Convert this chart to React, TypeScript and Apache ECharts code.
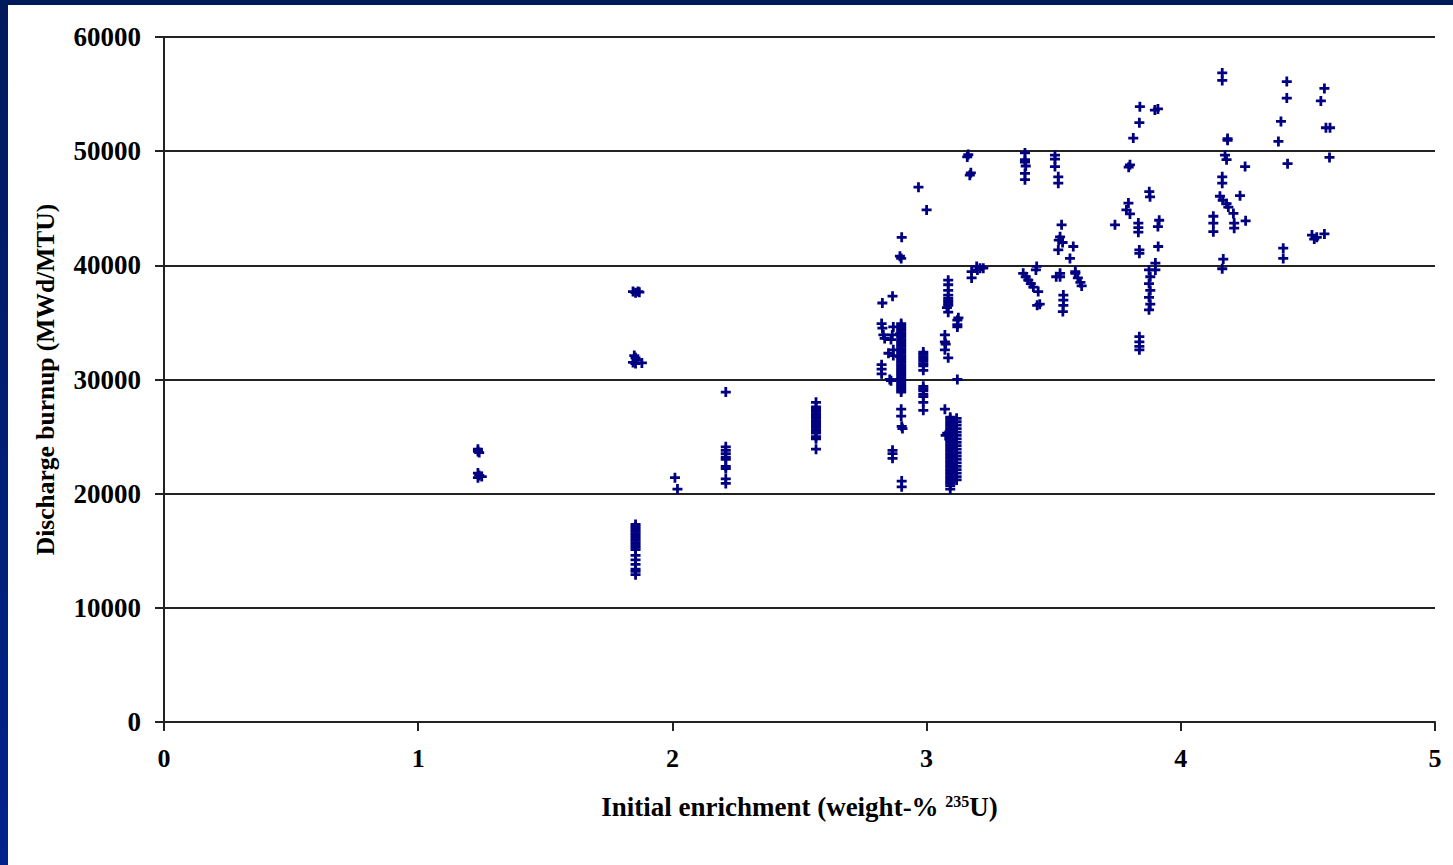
import React, { useEffect, useRef } from "react";
import * as echarts from "echarts";

// [initial enrichment (wt-% 235U), discharge burnup (MWd/MTU)]
const enrich124: number[][] = [
  [1.235, 23900], [1.235, 23700], [1.24, 23600], [1.235, 21800], [1.24, 21600], [1.25, 21500], [1.235, 21400],
];
const enrich185: number[][] = [
  [1.845, 37700], [1.855, 37600], [1.865, 37700], [1.87, 37650],
  [1.85, 32100], [1.855, 31900], [1.86, 31700], [1.845, 31500], [1.855, 31400], [1.88, 31450],
  [1.855, 17300], [1.855, 17100], [1.855, 16900], [1.855, 16700], [1.855, 16500], [1.855, 16300], [1.855, 16100],
  [1.855, 15900], [1.855, 15700], [1.855, 15500], [1.855, 15300], [1.855, 15100],
  [1.855, 14600], [1.855, 14200], [1.855, 13800], [1.855, 13400], [1.855, 13200], [1.855, 12900],
];
const enrich201: number[][] = [[2.01, 21400], [2.02, 20400]];
const enrich221: number[][] = [
  [2.21, 28900], [2.21, 24100], [2.21, 23800], [2.21, 23500], [2.21, 23200], [2.21, 23000], [2.21, 22400],
  [2.21, 22200], [2.21, 21300], [2.21, 20900],
];
const enrich257: number[][] = [
  [2.565, 28000], [2.565, 27600], [2.565, 27400], [2.565, 27200], [2.565, 27000], [2.565, 26800], [2.565, 26600],
  [2.565, 26400], [2.565, 26200], [2.565, 26000], [2.565, 25800], [2.565, 25600], [2.565, 25400], [2.565, 25300],
  [2.565, 25000], [2.565, 24800], [2.565, 23900],
];
const enrich290: number[][] = [
  [2.968, 46850], [3.0, 44850], [2.902, 42450], [2.895, 40800], [2.9, 40600], [2.866, 37300], [2.826, 36700],
  [2.823, 34900], [2.826, 34500], [2.83, 33900], [2.835, 33600], [2.869, 34600], [2.865, 33900], [2.86, 33500],
  [2.869, 32600], [2.869, 32100], [2.85, 32300],
  [2.9, 34900], [2.9, 34700], [2.9, 34500], [2.9, 34300], [2.9, 34100], [2.9, 33900], [2.9, 33700], [2.9, 33500],
  [2.9, 33300], [2.9, 33100], [2.9, 32900], [2.9, 32700], [2.9, 32500], [2.9, 32300], [2.9, 32100], [2.9, 31900],
  [2.9, 31700], [2.9, 31500], [2.9, 31300], [2.9, 31100], [2.9, 30900], [2.9, 30700], [2.9, 30500], [2.9, 30300],
  [2.9, 30100], [2.9, 29900], [2.9, 29700], [2.9, 29500], [2.9, 29300], [2.9, 29100], [2.9, 28900],
  [2.895, 34000], [2.895, 32000], [2.895, 30000],
  [2.823, 31300], [2.823, 30900], [2.823, 30500], [2.855, 30000], [2.86, 29900], [2.9, 27400], [2.9, 26800],
  [2.902, 25900], [2.905, 25700], [2.866, 23800], [2.866, 23500], [2.866, 23100], [2.902, 21100], [2.902, 20600],
];
const enrich299: number[][] = [
  [2.987, 32400], [2.987, 32200], [2.987, 32000], [2.987, 31800], [2.987, 31600], [2.987, 31400], [2.987, 31200],
  [2.987, 30800], [2.987, 29400], [2.987, 29200], [2.987, 29000], [2.987, 28700], [2.987, 28500], [2.987, 28000],
  [2.987, 27300],
];
const enrich310: number[][] = [
  [3.085, 38700], [3.085, 38300], [3.085, 37800], [3.085, 37400], [3.085, 37100], [3.085, 36900], [3.085, 36700],
  [3.085, 36500], [3.08, 36300], [3.085, 35900], [3.121, 35200], [3.121, 34800], [3.121, 34600], [3.125, 35400],
  [3.072, 33900], [3.072, 33300], [3.075, 33100], [3.072, 32600], [3.085, 31900], [3.121, 30000], [3.072, 27400],
  [3.093, 26700], [3.093, 26500], [3.093, 26300], [3.093, 26100], [3.093, 25900], [3.093, 25700], [3.093, 25500],
  [3.093, 25300], [3.093, 25100], [3.093, 24900], [3.093, 24700], [3.093, 24500], [3.093, 24300], [3.093, 24100],
  [3.093, 23900], [3.093, 23700], [3.093, 23500], [3.093, 23300], [3.093, 23100], [3.093, 22900], [3.093, 22700],
  [3.093, 22500], [3.093, 22300], [3.093, 22100], [3.093, 21900], [3.093, 21700], [3.093, 21500], [3.093, 21300],
  [3.093, 21100], [3.093, 20900], [3.093, 20700], [3.093, 20400],
  [3.118, 26600], [3.118, 26300], [3.118, 26000], [3.118, 25700], [3.118, 25400], [3.118, 25100], [3.118, 24800],
  [3.118, 24500], [3.118, 24200], [3.118, 23900], [3.118, 23600], [3.118, 23300], [3.118, 23000], [3.118, 22700],
  [3.118, 22400], [3.118, 22100], [3.118, 21800], [3.118, 21500], [3.118, 21200],
  [3.081, 25300], [3.075, 25100],
];
const enrich317: number[][] = [
  [3.164, 49700], [3.16, 49500], [3.174, 48100], [3.17, 47900], [3.197, 39900], [3.21, 39750], [3.177, 39450],
  [3.177, 38900], [3.223, 39750], [3.2, 39600],
];
const enrich338: number[][] = [
  [3.387, 49850], [3.387, 49250], [3.387, 49050], [3.39, 48700], [3.387, 48050], [3.387, 47500],
  [3.433, 39900], [3.43, 39600], [3.38, 39300], [3.39, 39000], [3.4, 38700], [3.41, 38400], [3.42, 38100],
  [3.439, 37700], [3.435, 36500], [3.445, 36600],
];
const enrich352: number[][] = [
  [3.505, 49650], [3.505, 49300], [3.505, 48650], [3.518, 47750], [3.518, 47200], [3.531, 43550], [3.525, 42500],
  [3.52, 42200], [3.518, 41350], [3.535, 42000], [3.577, 41650], [3.564, 40600], [3.525, 39300], [3.525, 39000],
  [3.51, 39000], [3.538, 37400], [3.538, 36950], [3.538, 36500], [3.536, 35950], [3.585, 39450], [3.585, 39300],
  [3.595, 38900], [3.605, 38500], [3.61, 38200],
];
const enrich385: number[][] = [
  [3.839, 53900], [3.898, 53600], [3.91, 53700], [3.837, 52500], [3.813, 51150], [3.8, 48800], [3.795, 48600],
  [3.876, 46450], [3.879, 46000], [3.794, 45450], [3.786, 44850], [3.8, 44500], [3.741, 43550], [3.833, 43700],
  [3.833, 43300], [3.833, 42900], [3.915, 43950], [3.91, 43400], [3.837, 41350], [3.837, 41050], [3.911, 41650],
  [3.9, 40200], [3.9, 39600], [3.875, 39600], [3.88, 39000], [3.875, 38400], [3.88, 37800], [3.875, 37200],
  [3.88, 36600], [3.875, 36100], [3.837, 33750], [3.837, 33300], [3.837, 32900], [3.837, 32600],
];
const enrich420: number[][] = [
  [4.163, 56850], [4.163, 56200], [4.417, 56100], [4.417, 54650], [4.565, 55500], [4.551, 54400], [4.394, 52600],
  [4.571, 52050], [4.587, 52050], [4.184, 51100], [4.184, 50950], [4.384, 50850], [4.174, 49650], [4.18, 49250],
  [4.585, 49450], [4.253, 48650], [4.42, 48900], [4.163, 47750], [4.163, 47200], [4.233, 46100], [4.154, 46050],
  [4.165, 45700], [4.18, 45400], [4.187, 45100], [4.207, 44550], [4.128, 44300], [4.128, 43700], [4.128, 42950],
  [4.21, 43700], [4.21, 43250], [4.255, 43900], [4.516, 42650], [4.525, 42300], [4.535, 42450], [4.565, 42750],
  [4.403, 41500], [4.403, 40600], [4.167, 40550], [4.163, 39700],
];

const xTicks = { min: 0, max: 5, interval: 1 };
const yTicks = { min: 0, max: 60000, interval: 10000 };

const xTitle = "Initial enrichment (weight-% {sup|235}U)";
const yTitle = "Discharge burnup (MWd/MTU)";

const FONT = "'Liberation Serif', 'Times New Roman', serif";
const PLUS = "path://M3.25 0h2.5v3.25h3.25v2.5h-3.25v3.25h-2.5v-3.25h-3.25v-2.5h3.25z";

export default function App() {
  const ref = useRef<HTMLDivElement>(null);
  useEffect(() => {
    document.body.style.margin = "0";
    const chart = echarts.init(ref.current!, undefined, { renderer: "svg" });
    const all = [
      ...enrich124, ...enrich185, ...enrich201, ...enrich221, ...enrich257, ...enrich290, ...enrich299,
      ...enrich310, ...enrich317, ...enrich338, ...enrich352, ...enrich385, ...enrich420,
    ];
    const base = { color: "#000", fontFamily: FONT, fontWeight: "bold" as const };
    chart.setOption({
      animation: false,
      backgroundColor: "#fff",
      grid: { left: 164, right: 18, top: 37, bottom: 143, containLabel: false },
      xAxis: {
        type: "value",
        ...xTicks,
        axisLine: { show: true, onZero: false, lineStyle: { color: "#222", width: 2 } },
        axisTick: { show: true, length: 9, lineStyle: { color: "#222", width: 2 } },
        splitLine: { show: false },
        axisLabel: { ...base, fontSize: 26, margin: 23, formatter: (v: number) => String(v) },
        name: xTitle,
        nameLocation: "middle",
        nameGap: 71,
        nameTextStyle: {
          ...base,
          fontSize: 27,
          rich: {
            sup: { ...base, fontSize: 16, verticalAlign: "top", lineHeight: 16 },
          },
        },
      },
      yAxis: {
        type: "value",
        ...yTicks,
        axisLine: { show: true, lineStyle: { color: "#222", width: 2 } },
        axisTick: { show: true, length: 9, lineStyle: { color: "#222", width: 2 } },
        splitLine: { show: true, lineStyle: { color: "#222", width: 2 } },
        axisLabel: { ...base, fontSize: 27, margin: 23, formatter: (v: number) => String(v) },
        name: yTitle,
        nameLocation: "middle",
        nameGap: 106,
        nameRotate: 90,
        nameTextStyle: { ...base, fontSize: 25.5 },
      },
      graphic: [
        { type: "rect", left: 0, top: 0, shape: { width: 1453, height: 5 }, style: { fill: "#001a5c" }, silent: true },
        {
          type: "rect", left: 0, top: 0, shape: { width: 8, height: 865 }, silent: true,
          style: {
            fill: new echarts.graphic.LinearGradient(0, 0, 0, 1, [
              { offset: 0, color: "#001a5c" },
              { offset: 1, color: "#00238c" },
            ]),
          },
        },
      ],
      series: [
        {
          type: "scatter",
          data: all,
          symbol: PLUS,
          symbolSize: 10,
          itemStyle: { color: "#000080", opacity: 1 },
        },
      ],
    });
    return () => chart.dispose();
  }, []);
  return <div ref={ref} style={{ width: 1453, height: 865 }} />;
}
